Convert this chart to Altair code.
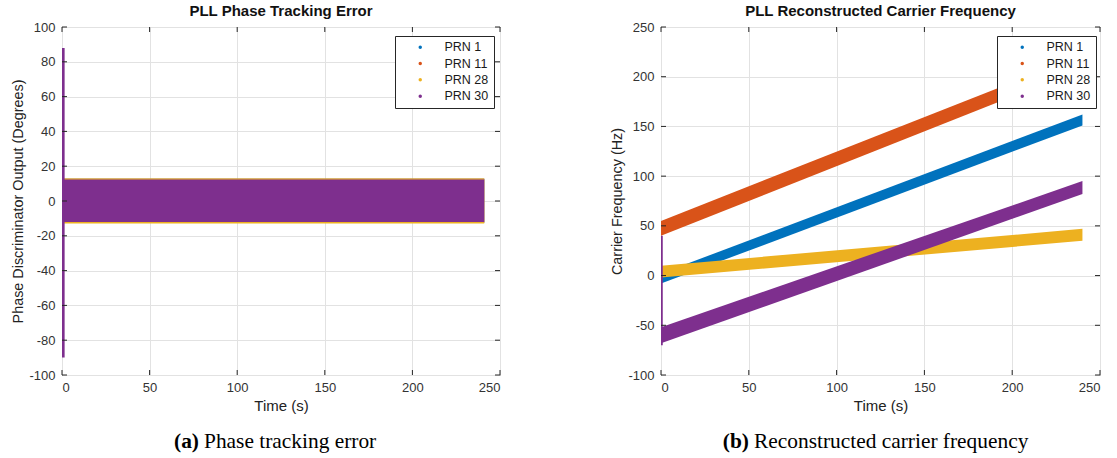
import altair as alt
import pandas as pd

# ---------------- data ----------------
PRNS = ["PRN 1", "PRN 11", "PRN 28", "PRN 30"]
COLORS = ["#0072BD", "#D95319", "#EDB120", "#7E2F8E"]

# (a) phase discriminator output: steady-state noise envelope (degrees)
phase_t_start = [1, 1, 1, 1]
phase_t_end = [241, 241, 241, 241]
phase_lower = [-12.5, -12.5, -12.9, -12.0]
phase_upper = [12.8, 12.8, 13.0, 12.4]
# initial transient at t≈0 (degrees)
phase_spike_t = [0.0, 1.5]
phase_spike_lo = -90
phase_spike_hi = 88

# (b) reconstructed carrier frequency: envelope at start and end (Hz)
freq_t = [0, 240]
freq_start_lo = [-8, 40, -2, -68]
freq_start_hi = [2, 55, 10, -52]
freq_end_lo = [151, 208, 35, 82]
freq_end_hi = [162, 222, 47, 95]
# initial transient of PRN 30 at t≈0 (Hz)
freq_spike_t = [0.0, 1.0]
freq_spike_lo = -70
freq_spike_hi = 40

x_ticks = [0, 50, 100, 150, 200, 250]
phase_y_ticks = [-100, -80, -60, -40, -20, 0, 20, 40, 60, 80, 100]
freq_y_ticks = [-100, -50, 0, 50, 100, 150, 200, 250]

titles = ["PLL Phase Tracking Error", "PLL Reconstructed Carrier Frequency"]
y_titles = ["Phase Discriminator Output (Degrees)", "Carrier Frequency (Hz)"]
x_title = "Time (s)"
cap_tags = ["(a)", "(b)"]
cap_texts = ["Phase tracking error", "Reconstructed carrier frequency"]

# ---------------- tables ----------------
rows = []
for i, p in enumerate(PRNS):
    rows.append({"prn": p, "t": phase_t_start[i], "lo": phase_lower[i], "hi": phase_upper[i]})
    rows.append({"prn": p, "t": phase_t_end[i], "lo": phase_lower[i], "hi": phase_upper[i]})
phase_df = pd.DataFrame(rows)

rows = []
for i, p in enumerate(PRNS):
    rows.append({"prn": p, "t": freq_t[0], "lo": freq_start_lo[i], "hi": freq_start_hi[i]})
    rows.append({"prn": p, "t": freq_t[1], "lo": freq_end_lo[i], "hi": freq_end_hi[i]})
freq_df = pd.DataFrame(rows)

SANS = "Liberation Sans"
SERIF = "Liberation Serif"
W1, W2, H = 438, 439, 348
GRID = "#e2e2e2"
AX = "#262626"
MINUS = "datum.value < 0 ? '-' + abs(datum.value) : '' + datum.value"


def make_panel(df, W, ydom, yticks, ytitle, title, spike_t, spike_lo, spike_hi,
               tag, caption, tag_x, legend_x):
    xs = alt.Scale(domain=[0, 250], nice=False, zero=False)
    ys = alt.Scale(domain=ydom, nice=False, zero=False)
    common = dict(grid=True, gridColor=GRID, domain=False, ticks=False, labelFontSize=13,
                  labelFont=SANS, titleFont=SANS, labelColor="#333",
                  titleColor="#222", titleFontWeight="normal", labelOverlap=False)
    xaxis = alt.Axis(values=x_ticks, title=x_title, labelPadding=6, titlePadding=4,
                     titleFontSize=15, **common)
    yaxis = alt.Axis(values=yticks, title=ytitle, labelPadding=7, titlePadding=3.5,
                     titleFontSize=14.4, labelExpr=MINUS, **common)
    bands = alt.Chart(df).mark_area(interpolate="linear", opacity=1).encode(
        x=alt.X("t:Q", scale=xs, axis=xaxis),
        y=alt.Y("lo:Q", scale=ys, axis=yaxis, stack=None),
        y2="hi:Q",
        color=alt.Color("prn:N", scale=alt.Scale(domain=PRNS, range=COLORS),
                        legend=alt.Legend(title=None, orient="none", legendX=legend_x, legendY=9,
                                          fillColor="white", strokeColor=AX, padding=5,
                                          symbolType="circle", symbolSize=12,
                                          symbolStrokeWidth=0, symbolOffset=14,
                                          labelOffset=18, rowPadding=3.3, labelFontSize=12.5,
                                          labelFont=SANS, labelColor="#1a1a1a")),
    )
    spike_df = pd.DataFrame({"t0": [spike_t[0]], "t1": [spike_t[1]],
                             "lo": [spike_lo], "hi": [spike_hi]})
    spike = alt.Chart(spike_df).mark_rect(color=COLORS[3]).encode(
        x=alt.X("t0:Q", scale=xs, axis=xaxis), x2="t1:Q",
        y=alt.Y("lo:Q", scale=ys, axis=yaxis), y2="hi:Q")
    xt = pd.DataFrame({"v": x_ticks})
    yt = pd.DataFrame({"v": yticks})
    tick_top = alt.Chart(xt).mark_rule(color=AX).encode(
        x=alt.X("v:Q", scale=xs, axis=xaxis), y=alt.value(0), y2=alt.value(5))
    tick_bot = alt.Chart(xt).mark_rule(color=AX).encode(
        x=alt.X("v:Q", scale=xs, axis=xaxis), y=alt.value(H), y2=alt.value(H - 5))
    tick_l = alt.Chart(yt).mark_rule(color=AX).encode(
        y=alt.Y("v:Q", scale=ys, axis=yaxis), x=alt.value(0), x2=alt.value(5))
    tick_r = alt.Chart(yt).mark_rule(color=AX).encode(
        y=alt.Y("v:Q", scale=ys, axis=yaxis), x=alt.value(W - 5), x2=alt.value(W))
    one = pd.DataFrame({"k": [0]})
    cap_a = alt.Chart(one).mark_text(font=SERIF, fontSize=21.4, fontWeight="bold", align="right",
                                     baseline="alphabetic", color="#000").encode(
        x=alt.value(tag_x), y=alt.value(421), text=alt.value(tag))
    cap_b = alt.Chart(one).mark_text(font=SERIF, fontSize=21.4, align="left",
                                     baseline="alphabetic", color="#000").encode(
        x=alt.value(tag_x + 5), y=alt.value(421), text=alt.value(caption))
    return alt.layer(bands, spike, tick_top, tick_bot, tick_l, tick_r, cap_a, cap_b).properties(
        width=W, height=H,
        title=alt.TitleParams(title, font=SANS, fontSize=15, fontWeight="bold", color="#111",
                              anchor="middle", offset=2),
    )


left = make_panel(phase_df, W1, [-100, 100], phase_y_ticks, y_titles[0], titles[0],
                  phase_spike_t, phase_spike_lo, phase_spike_hi, cap_tags[0], cap_texts[0],
                  137, 333)
right = make_panel(freq_df, W2, [-100, 250], freq_y_ticks, y_titles[1], titles[1],
                   freq_spike_t, freq_spike_lo, freq_spike_hi, cap_tags[1], cap_texts[1],
                   88, 336)

chart = alt.hconcat(left, right, spacing=107).resolve_scale(
    color="independent", x="independent", y="independent"
).properties(
    padding={"left": 9, "top": 3, "right": 5, "bottom": 5},
    background="white",
).configure_view(stroke=AX, strokeWidth=1).configure_axis(labelOverlap=False)

chart.save("out.html", embed_options={"renderer": "svg", "actions": False})
